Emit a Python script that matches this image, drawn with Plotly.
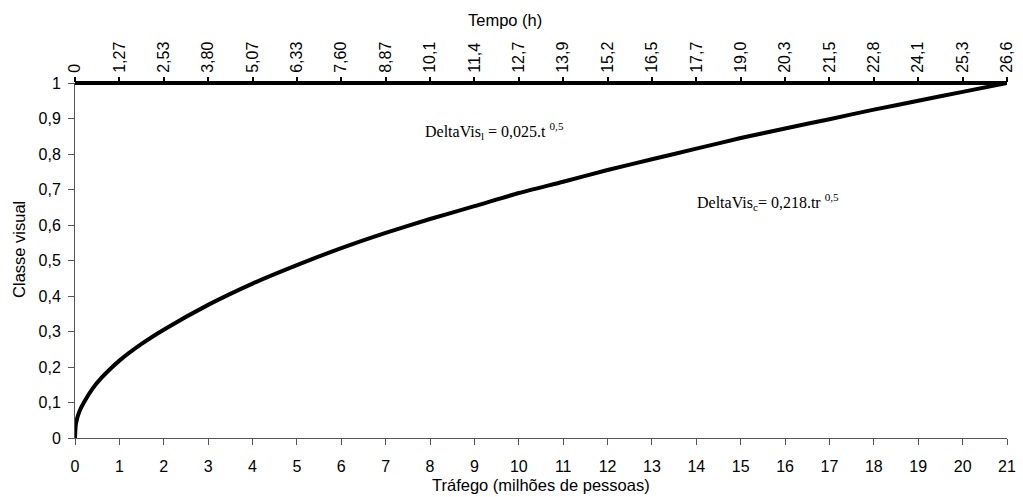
import plotly.graph_objects as go

# Curve: Tráfego (milhões de pessoas) vs Classe visual
traffic = [0, 0.02, 0.1, 0.2, 0.4, 0.6, 0.8, 1, 1.5, 2, 3, 4, 5, 6, 7, 8, 9, 10,
           11, 12, 13, 14, 15, 16, 17, 18, 19, 20, 21]
visual = [0, 0.04, 0.075, 0.10, 0.14, 0.17, 0.195, 0.218, 0.265, 0.305, 0.375, 0.435,
          0.487, 0.535, 0.578, 0.617, 0.653, 0.69, 0.722, 0.755, 0.785, 0.815, 0.845,
          0.872, 0.898, 0.925, 0.95, 0.975, 1.0]

# Horizontal line at Classe visual = 1 (time scale axis line)
limit_x = [0, 21]
limit_y = [1, 1]

bottom_ticks = list(range(0, 22))
time_labels = ["0", "1,27", "2,53", "3,80", "5,07", "6,33", "7,60", "8,87", "10,1",
               "11,4", "12,7", "13,9", "15,2", "16,5", "17,7", "19,0", "20,3", "21,5",
               "22,8", "24,1", "25,3", "26,6"]
y_ticks = [0, 0.1, 0.2, 0.3, 0.4, 0.5, 0.6, 0.7, 0.8, 0.9, 1]

fig = go.Figure()
fig.add_trace(go.Scatter(x=traffic, y=visual, mode="lines",
                         line=dict(color="black", width=4, shape="spline", smoothing=0.6),
                         cliponaxis=False, showlegend=False))
# dummy-free top axis: attach an empty trace to x2 so the top axis exists
fig.add_trace(go.Scatter(x=[], y=[], xaxis="x2", showlegend=False, hoverinfo="skip"))

# thick line at y = 1 (paper top == data 1), not clipped vertically
fig.add_shape(type="line", xref="x", yref="paper",
              x0=limit_x[0], x1=limit_x[1], y0=limit_y[0], y1=limit_y[1],
              line=dict(color="black", width=4), layer="above")

axfont = dict(family="Liberation Sans, Arial, sans-serif", size=16, color="black")
titlefont = dict(family="Liberation Sans, Arial, sans-serif", size=16.5, color="black")

fig.update_layout(
    width=1023, height=497,
    margin=dict(l=75, r=16, t=83, b=59, autoexpand=False),
    plot_bgcolor="white", paper_bgcolor="white",
    separators=", ",
    font=axfont,
    xaxis=dict(range=[0, 21], tickvals=bottom_ticks, ticks="outside", ticklen=6,
               tickcolor="#555", showline=True, linecolor="#555", linewidth=1,
               showgrid=False, zeroline=False, tickfont=axfont, automargin=False,
               ticklabelstandoff=8),
    xaxis2=dict(range=[0, 21], overlaying="x", side="top", anchor="y",
                tickvals=bottom_ticks, ticktext=time_labels, tickangle=-90,
                ticks="outside", ticklen=5, tickwidth=1.5, tickcolor="black",
                showline=False, showgrid=False, zeroline=False, tickfont=axfont,
                automargin=False, ticklabelstandoff=1),
    xaxis3=dict(range=[0, 21], overlaying="x", side="top", anchor="y",
                tickvals=bottom_ticks, showticklabels=False,
                ticks="inside", ticklen=5, tickwidth=1.5, tickcolor="black",
                showline=False, showgrid=False, zeroline=False, automargin=False),
    yaxis=dict(range=[0, 1], tickvals=y_ticks, ticks="outside", ticklen=6,
               tickcolor="#555", showline=True, linecolor="#555", linewidth=1,
               showgrid=False, zeroline=False, tickfont=axfont, automargin=False,
               ticklabelstandoff=4),
)

# Axis titles
fig.add_annotation(x=0.5, y=-0.132, xref="paper", yref="paper", yanchor="middle",
                   showarrow=False, text="Tráfego (milhões de pessoas)", font=titlefont)
fig.add_annotation(x=0.461, y=1.177, xref="paper", yref="paper", yanchor="middle",
                   showarrow=False, text="Tempo (h)", font=titlefont)
fig.add_annotation(x=-0.060, y=0.53, xref="paper", yref="paper", xanchor="center",
                   yanchor="middle", textangle=-90, showarrow=False,
                   text="Classe visual", font=titlefont)

serif = dict(family="Liberation Serif, Times New Roman, serif", size=16, color="black")
fig.add_annotation(x=7.84, y=0.866, xref="x", yref="y", xanchor="left", yanchor="middle",
                   showarrow=False,
                   text="DeltaVis<sub>l</sub> = 0,025.t <sup>0,5</sup>", font=serif)
fig.add_annotation(x=13.97, y=0.666, xref="x", yref="y", xanchor="left", yanchor="middle",
                   showarrow=False,
                   text="DeltaVis<sub>c</sub>= 0,218.tr <sup>0,5</sup>", font=serif)

fig.write_html("out.html", config={"displayModeBar": False},
               post_script="document.body.style.margin='0';document.body.style.overflow='hidden';")
